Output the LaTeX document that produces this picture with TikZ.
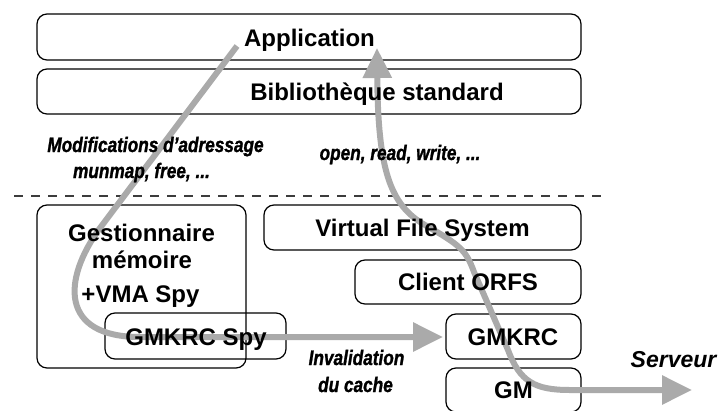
\documentclass[tikz,border=0pt]{standalone}
\usepackage{fontspec}
\setmainfont{Liberation Sans}
\newfontfamily\condfont[FakeStretch=0.82,FakeBold=1.2]{Liberation Sans}
\usetikzlibrary{arrows.meta}
\definecolor{flowgray}{RGB}{170,170,170}
\definecolor{dashgray}{RGB}{60,60,60}
\begin{document}
\begin{tikzpicture}[x=1pt,y=-1pt,
  box/.style={draw, line width=1.2pt, rounded corners=10pt, inner sep=0pt},
  lbl/.style={font=\fontsize{24}{28}\selectfont\bfseries, inner sep=0pt, anchor=base},
  note/.style={font=\condfont\fontsize{21}{25}\selectfont\bfseries\itshape, inner sep=0pt, anchor=base},
  flow/.style={draw=flowgray, line width=6pt},
  bigtip/.tip={Triangle[length=30pt,width=28pt]}
]
\useasboundingbox (0,0) rectangle (720,410);
% boxes
\node[box, minimum width=544pt, minimum height=46pt] (app) at (309,37) {};
\node[box, minimum width=544pt, minimum height=45pt] (lib) at (309,91.5) {};
\node[box, minimum width=209pt, minimum height=163pt] (gest) at (141.5,286.5) {};
\node[box, minimum width=181pt, minimum height=46pt] (spy) at (195.5,336) {};
\node[box, minimum width=317pt, minimum height=45pt] (vfs) at (422.5,227.5) {};
\node[box, minimum width=226pt, minimum height=44pt] (orfs) at (468,282) {};
\node[box, minimum width=135pt, minimum height=45pt] (gmkrc) at (513.5,336.5) {};
\node[box, minimum width=135pt, minimum height=44pt] (gm) at (513.5,390) {};
% dashed separator
\coordinate (dl) at (14,196);
\coordinate (dr) at (605,196);
\draw[dashgray, line width=1.2pt, dash pattern=on 9pt off 8pt] (dl) -- (dr);
% flows
\coordinate (f1s) at (237,46);
\coordinate (f1e) at (443,337);
\draw[flow, -{bigtip}] (f1s) -- (100,228) .. controls (62,280) and (60,337) .. (140,337) -- (f1e);
\coordinate (f2s) at (377,48);
\coordinate (f2e) at (692,390);
\draw[flow, {bigtip}-{bigtip}] (f2s) .. controls (378,170) and (390,205) .. (425,225)
  .. controls (460,245) and (466,250) .. (474,272) -- (508,350)
  .. controls (520,382) and (535,390) .. (570,390) -- (f2e);
% labels
\node[lbl] (tapp) at (309.5,46) {Application};
\node[lbl] (tlib) at (377,100) {Bibliothèque standard};
\node[lbl] (tg1) at (141.5,241) {Gestionnaire};
\node[lbl] (tg2) at (142,268.5) {mémoire};
\node[lbl] (tg3) at (140.5,302) {+VMA Spy};
\node[lbl] (tspy) at (196,345) {GMKRC Spy};
\node[lbl] (tvfs) at (422.5,236) {Virtual File System};
\node[lbl] (torfs) at (468,290) {Client ORFS};
\node[lbl] (tgmkrc) at (513,345) {GMKRC};
\node[lbl] (tgm) at (513.5,398) {GM};
\node[note] (m1) at (155.5,152) {Modifications d’adressage};
\node[note] (m2) at (141.5,178) {munmap, free, ...};
\node[note] (ops) at (400,160) {open, read, write, ...};
\node[note] (inv1) at (356.5,365) {Invalidation};
\node[note] (inv2) at (355.5,392) {du cache};
\node[font=\fontsize{23}{27}\selectfont\bfseries\itshape, inner sep=0pt, anchor=base] (srv) at (673.5,367) {Serveur};
\end{tikzpicture}
\end{document}
